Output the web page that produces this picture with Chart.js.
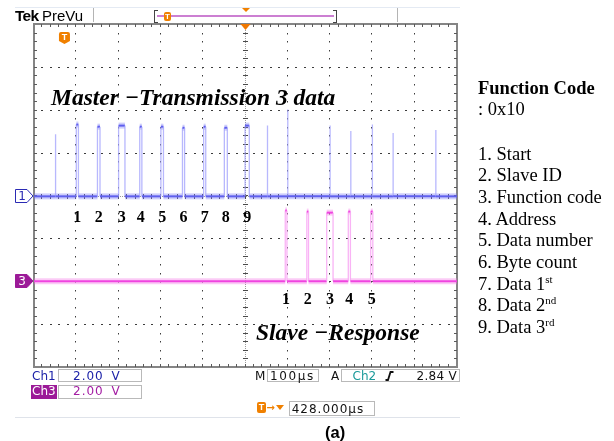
<!DOCTYPE html>
<html>
<head>
<meta charset="utf-8">
<script src="https://cdn.jsdelivr.net/npm/chart.js@4.4.1/dist/chart.umd.min.js"></script>
<style>
  body { margin: 0; background: #fff; }
  #wrap { position: relative; width: 614px; height: 441px; overflow: hidden; background: #fff; }
  #scope { position: absolute; left: 0; top: 0; }
  .t { position: absolute; white-space: nowrap; line-height: 1; }
  .serif { font-family: "Liberation Serif", "Times New Roman", serif; color: #000; }
  .rp { font-size: 18.5px; left: 478px; }
  .big { font-size: 23.5px; font-weight: bold; font-style: italic; }
  .dv { font-family: "DejaVu Sans", sans-serif; font-size: 12px; }
  .box { position: absolute; box-sizing: border-box; border: 1px solid #b9b9b9; background: #fff; }
  .orangeT { position: absolute; background: #f08000; color: #fff; font: bold 8px "Liberation Sans", sans-serif;
             text-align: center; border-radius: 2px; }
  sup { font-size: 11px; vertical-align: 7px; line-height: 0; }
</style>
</head>
<body>
<div id="wrap">
  <canvas id="scope" width="614" height="441"></canvas>

  <!-- top status strip -->
  <div style="position:absolute;left:15px;top:7px;width:445px;height:1px;background:#e4eaf3"></div>
  <div class="t" style="left:15px;top:7px;font:bold 15.5px 'Liberation Sans',sans-serif;letter-spacing:-0.7px">Tek</div>
  <div class="t" style="left:42px;top:7.3px;font:15px 'Liberation Sans',sans-serif">PreVu</div>
  <div style="position:absolute;left:93px;top:8px;width:1px;height:14px;background:#b4b4b4"></div>
  <div style="position:absolute;left:397px;top:8px;width:1px;height:14px;background:#b4b4b4"></div>
  <div style="position:absolute;left:154px;top:10px;width:3px;height:11px;border:1px solid #444;border-right:none"></div>
  <div style="position:absolute;left:157px;top:15px;width:177px;height:2px;background:#cc7fd2"></div>
  <div style="position:absolute;left:333px;top:10px;width:3px;height:11px;border:1px solid #444;border-left:none"></div>
  <div class="orangeT" style="left:164px;top:12px;width:7px;height:9px;line-height:9px">T</div>
  <div style="position:absolute;left:241.5px;top:8px;width:0;height:0;border-left:4px solid transparent;border-right:4px solid transparent;border-top:4px solid #f08000"></div>

  <!-- annotations on the screen -->
  <div class="t serif big" style="left:51px;top:86.3px">Master −Transmission 3 data</div>
  <div class="t serif big" style="left:256px;top:321.3px">Slave −Response</div>

  <!-- legend of the frame fields -->
  <div class="t serif rp" style="top:78.5px;font-weight:bold">Function Code</div>
  <div class="t serif rp" style="top:99.5px">: 0x10</div>
  <div class="t serif rp" style="top:144.5px">1. Start</div>
  <div class="t serif rp" style="top:166.2px">2. Slave ID</div>
  <div class="t serif rp" style="top:187.9px">3. Function code</div>
  <div class="t serif rp" style="top:209.6px">4. Address</div>
  <div class="t serif rp" style="top:231.3px">5. Data number</div>
  <div class="t serif rp" style="top:253px">6. Byte count</div>
  <div class="t serif rp" style="top:274.7px">7. Data 1<sup>st</sup></div>
  <div class="t serif rp" style="top:296.4px">8. Data 2<sup>nd</sup></div>
  <div class="t serif rp" style="top:318.1px">9. Data 3<sup>rd</sup></div>

  <!-- bottom readouts -->
  <div class="box" style="left:58px;top:369px;width:84px;height:13px"></div>
  <div class="t dv" style="left:32px;top:369.9px;color:#1c22a8">Ch1</div>
  <div class="t dv" style="left:73px;top:369.9px;color:#1c22a8;letter-spacing:1px;word-spacing:3px">2.00 V</div>

  <div style="position:absolute;left:31px;top:385px;width:26px;height:14px;background:#9c1a98"></div>
  <div class="box" style="left:58px;top:385px;width:84px;height:14px"></div>
  <div class="t dv" style="left:32px;top:384.9px;color:#fff">Ch3</div>
  <div class="t dv" style="left:73px;top:384.9px;color:#a31ca3;letter-spacing:1px;word-spacing:3px">2.00 V</div>

  <div class="t dv" style="left:255px;top:369.9px;color:#111">M</div>
  <div class="box" style="left:267px;top:369px;width:52px;height:13px"></div>
  <div class="t dv" style="left:270px;top:369.9px;color:#111;letter-spacing:1.6px">100µs</div>

  <div class="t dv" style="left:331px;top:369.9px;color:#111">A</div>
  <div class="box" style="left:341px;top:369px;width:119px;height:13px"></div>
  <div class="t dv" style="left:352.5px;top:369.9px;color:#1a9a9a">Ch2</div>
  <svg style="position:absolute;left:385px;top:371px" width="9" height="10"><path d="M0.5 9 H3 L5.5 1 H8.5" fill="none" stroke="#111" stroke-width="1.8"/></svg>
  <div class="t dv" style="left:416.5px;top:369.9px;color:#111;letter-spacing:0.3px">2.84 V</div>

  <div class="orangeT" style="left:257px;top:402px;width:9px;height:11px;line-height:11px;font-size:9px">T</div>
  <div class="t" style="left:266.5px;top:401.5px;font:bold 10px 'DejaVu Sans',sans-serif;color:#f08000">→</div>
  <div style="position:absolute;left:276px;top:405px;width:0;height:0;border-left:4px solid transparent;border-right:4px solid transparent;border-top:5px solid #f08000"></div>
  <div class="box" style="left:289px;top:401px;width:86px;height:15px"></div>
  <div class="t dv" style="left:291.7px;top:402.5px;color:#111;letter-spacing:1px">428.000µs</div>

  <div style="position:absolute;left:15px;top:417px;width:445px;height:1px;background:#dfe3ea"></div>
  <div class="t" style="left:325px;top:423px;font:bold 16.5px 'Liberation Sans',sans-serif;color:#000">(a)</div>
</div>

<script>
// Horizontal: 100 µs/div over 10 divisions; vertical: 8 divisions.
const TIME_MIN = 0;
const TIME_MAX = 1000;
const TIME_DIVS = [0, 100, 200, 300, 400, 500, 600, 700, 800, 900, 1000];
const VOLT_DIVS = [-4, -3, -2, -1, 0, 1, 2, 3, 4];
const VOLTS_PER_DIV = 2;
const TRIGGER_TIME = 72;          // 428 µs ahead of the screen centre
const CENTRE_TIME = 500;

// Channel 1 (master): ground position in divisions
const CH1_POSITION = -0.02;
const ch1PulseStart = [100, 150, 200, 250, 300, 351, 401, 450, 499];
const ch1PulseEnd   = [105, 156, 215, 255, 306, 356, 406, 457, 509];
const ch1PulseHigh  = [3.35, 3.25, 3.3, 3.25, 3.25, 3.2, 3.25, 3.2, 3.3];
const ch1Labels     = ['1', '2', '3', '4', '5', '6', '7', '8', '9'];
// short glitches coupled onto channel 1
const ch1SpikeTime  = [51, 552, 600, 700, 749, 800, 849, 950];
const ch1SpikeHigh  = [2.9, 3.3, 4.05, 3.3, 3.05, 3.35, 2.95, 3.1];

// Channel 3 (slave)
const CH3_POSITION = -2;
const ch3PulseStart = [594, 645, 692, 743, 796];
const ch3PulseEnd   = [598, 649, 707, 748, 801];
const ch3PulseHigh  = [3.3, 3.25, 3.2, 3.25, 3.25];
const ch3Labels     = ['1', '2', '3', '4', '5'];

function buildTrace(starts, ends, highs, spikeT, spikeH, pos) {
  const events = [];
  starts.forEach((s, i) => events.push({ t: s, pts: [[s, 0], [s, highs[i]], [ends[i], highs[i]], [ends[i], 0]] }));
  spikeT.forEach((t, i) => events.push({ t, pts: [[t, 0], [t, spikeH[i]], [t, 0]] }));
  events.sort((a, b) => a.t - b.t);
  const out = [{ x: TIME_MIN, y: pos }];
  events.forEach(e => e.pts.forEach(([t, v]) => out.push({ x: t, y: pos + v / VOLTS_PER_DIV })));
  out.push({ x: TIME_MAX, y: pos });
  return out;
}

const ch1Trace = buildTrace(ch1PulseStart, ch1PulseEnd, ch1PulseHigh, ch1SpikeTime, ch1SpikeHigh, CH1_POSITION);
const ch3Trace = buildTrace(ch3PulseStart, ch3PulseEnd, ch3PulseHigh, [], [], CH3_POSITION);

const isEdge = c => c.p0.parsed.x === c.p1.parsed.x;

// fast edges show up faint and thin on the display; levels are bright and fuzzy
function traceSets(data, core, halo, edge) {
  return [
    { data, borderColor: core, borderWidth: 2, pointRadius: 0, tension: 0, fill: false,
      segment: { borderColor: c => isEdge(c) ? edge : undefined,
                 borderWidth: c => isEdge(c) ? 1.3 : undefined } },
    { data, borderColor: halo, borderWidth: 6, pointRadius: 0, tension: 0, fill: false,
      segment: { borderColor: c => isEdge(c) ? 'rgba(0,0,0,0)' : undefined } }
  ];
}

function drawGraticule(chart) {
  const { ctx, chartArea: a, scales: { x, y } } = chart;
  const xs = TIME_DIVS.map(v => x.getPixelForValue(v));
  const ys = VOLT_DIVS.map(v => y.getPixelForValue(v));
  const sx = (xs[1] - xs[0]) / 5;
  const sy = (ys[0] - ys[1]) / 5;
  const cx = x.getPixelForValue(CENTRE_TIME);
  const cy = y.getPixelForValue(0);
  ctx.save();
  ctx.fillStyle = '#3c3c3c';
  // dotted major lines
  for (let i = 1; i < xs.length - 1; i++) {
    if (TIME_DIVS[i] === CENTRE_TIME) continue;
    for (let yy = a.top + sy; yy < a.bottom - 1; yy += sy) ctx.fillRect(Math.round(xs[i]) - 1, Math.round(yy), 1, 1.5);
  }
  for (let j = 1; j < ys.length - 1; j++) {
    if (VOLT_DIVS[j] === 0) continue;
    for (let xx = a.left + sx; xx < a.right - 1; xx += sx) ctx.fillRect(Math.round(xx) - 1, Math.round(ys[j]), 2, 1);
  }
  // centre cross with minor ticks
  ctx.fillStyle = '#9a9a9a';
  for (let yy = a.top; yy < a.bottom; yy += 2) ctx.fillRect(Math.round(cx) - 1, yy, 1, 1);
  for (let xx = a.left; xx < a.right; xx += 2) ctx.fillRect(xx, Math.round(cy), 1, 1);
  ctx.fillStyle = '#4a4a4a';
  for (let yy = a.top + sy; yy < a.bottom - 1; yy += sy) ctx.fillRect(Math.round(cx) - 3, Math.round(yy), 5, 1);
  for (let xx = a.left + sx; xx < a.right - 1; xx += sx) ctx.fillRect(Math.round(xx) - 1, Math.round(cy) - 2, 1, 5);
  // frame and edge ticks
  ctx.strokeStyle = '#858585';
  ctx.lineWidth = 2;
  ctx.strokeRect(a.left, a.top, a.right - a.left, a.bottom - a.top);
  ctx.fillStyle = '#5a5a5a';
  for (let xx = a.left + sx; xx < a.right - 1; xx += sx) {
    ctx.fillRect(Math.round(xx) - 1, a.top, 1, 3);
    ctx.fillRect(Math.round(xx) - 1, a.bottom - 3, 1, 3);
  }
  for (let yy = a.top + sy; yy < a.bottom - 1; yy += sy) {
    ctx.fillRect(a.left, Math.round(yy), 3, 1);
    ctx.fillRect(a.right - 3, Math.round(yy), 3, 1);
  }
  ctx.restore();
}

function drawMarkers(chart) {
  const { ctx, chartArea: a, scales: { x, y } } = chart;
  ctx.save();
  // channel ground markers
  const marker = (pos, label, fill, stroke, textColor) => {
    const yc = Math.round(y.getPixelForValue(pos));
    ctx.beginPath();
    ctx.moveTo(15.5, yc - 6.5); ctx.lineTo(27, yc - 6.5); ctx.lineTo(33, yc);
    ctx.lineTo(27, yc + 6.5); ctx.lineTo(15.5, yc + 6.5); ctx.closePath();
    ctx.fillStyle = fill; ctx.fill();
    ctx.strokeStyle = stroke; ctx.lineWidth = 1; ctx.stroke();
    ctx.fillStyle = textColor;
    ctx.font = '12px "DejaVu Sans", sans-serif';
    ctx.textAlign = 'center'; ctx.textBaseline = 'middle';
    ctx.fillText(label, 22, yc + 0.5);
  };
  marker(CH1_POSITION, '1', '#ffffff', '#2a2ab4', '#2a2ab4');
  marker(CH3_POSITION, '3', '#9c1a98', '#9c1a98', '#ffffff');

  // delay reference at the screen centre
  const cx = x.getPixelForValue(CENTRE_TIME);
  ctx.fillStyle = '#f07800';
  ctx.beginPath();
  ctx.moveTo(cx - 5, a.top); ctx.lineTo(cx + 5, a.top); ctx.lineTo(cx, a.top + 6); ctx.closePath();
  ctx.fill();

  // trigger point marker
  const tx = x.getPixelForValue(TRIGGER_TIME);
  const t0 = a.top + 8;
  ctx.beginPath();
  ctx.moveTo(tx - 5.5, t0 + 2);
  ctx.quadraticCurveTo(tx - 5.5, t0, tx - 3.5, t0);
  ctx.lineTo(tx + 3.5, t0);
  ctx.quadraticCurveTo(tx + 5.5, t0, tx + 5.5, t0 + 2);
  ctx.lineTo(tx + 5.5, t0 + 9);
  ctx.lineTo(tx, t0 + 12);
  ctx.lineTo(tx - 5.5, t0 + 9);
  ctx.closePath();
  ctx.fillStyle = '#f08000';
  ctx.fill();
  ctx.fillStyle = '#fff';
  ctx.font = 'bold 9px "Liberation Sans", sans-serif';
  ctx.textAlign = 'center'; ctx.textBaseline = 'middle';
  ctx.fillText('T', tx, t0 + 5.5);
  ctx.restore();
}

function drawPulseLabels(chart) {
  const { ctx, scales: { x } } = chart;
  ctx.save();
  ctx.fillStyle = '#000';
  ctx.font = 'bold 16px "Liberation Serif", serif';
  ctx.textAlign = 'center';
  ctx.textBaseline = 'alphabetic';
  ch1Labels.forEach((s, i) => {
    const px = x.getPixelForValue((ch1PulseStart[i] + ch1PulseEnd[i]) / 2);
    ctx.fillText(s, px, 221.5);
  });
  ch3Labels.forEach((s, i) => {
    const px = x.getPixelForValue((ch3PulseStart[i] + ch3PulseEnd[i]) / 2);
    ctx.fillText(s, px, 304);
  });
  ctx.restore();
}

const scopeScreen = {
  id: 'scopeScreen',
  beforeDatasetsDraw: drawGraticule,
  afterDatasetsDraw(chart) { drawMarkers(chart); drawPulseLabels(chart); }
};

new Chart(document.getElementById('scope'), {
  type: 'line',
  data: {
    datasets: [
      ...traceSets(ch1Trace, '#5f5fee', 'rgba(118,118,245,0.36)', 'rgba(160,160,252,0.75)'),
      ...traceSets(ch3Trace, '#f044e0', 'rgba(245,110,230,0.36)', 'rgba(248,160,242,0.8)')
    ]
  },
  options: {
    responsive: false,
    animation: false,
    devicePixelRatio: 1,
    layout: { padding: { left: 34, right: 157, top: 24, bottom: 74 } },
    plugins: { legend: { display: false }, tooltip: { enabled: false } },
    scales: {
      x: { type: 'linear', min: TIME_MIN, max: TIME_MAX, display: false },
      y: { type: 'linear', min: VOLT_DIVS[0], max: VOLT_DIVS[VOLT_DIVS.length - 1], display: false }
    }
  },
  plugins: [scopeScreen]
});
</script>
</body>
</html>
